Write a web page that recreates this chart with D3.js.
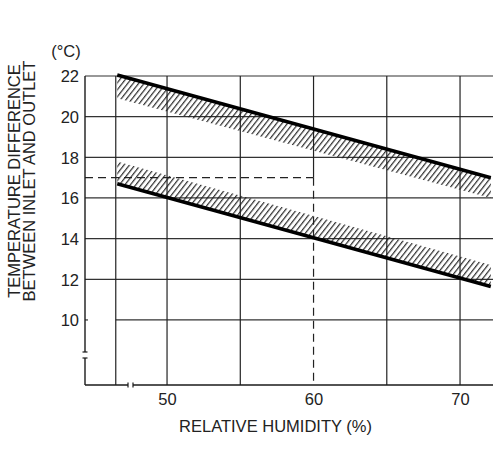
<!DOCTYPE html>
<html>
<head>
<meta charset="utf-8">
<script src="https://cdn.jsdelivr.net/npm/d3@7"></script>
<style>
  html, body { margin: 0; padding: 0; background: #fff; }
  svg text { font-family: "Liberation Sans", Arial, sans-serif; fill: #222; }
</style>
</head>
<body>
<svg id="chart" width="503" height="451"></svg>
<script>
// Axis ticks
const humidityTicks = [50, 60, 70];
const tempTicks = [10, 12, 14, 16, 18, 20, 22];
// Grid positions
const gridHumidity = [46.5, 50, 55, 65, 70];
const gridTemp = [12, 14, 16, 18, 20, 22];
// Reference reading (dashed guide)
const markHumidity = 60;
const markTemp = 17;
// Band end points (relative humidity, %)
const bandHumidity = [46.6, 72.1];
// Upper band: limit line and inner edge of hatching (°C)
const upperLimit = [22.05, 17.0];
const upperInner = [20.9, 16.0];
// Lower band: limit line and inner edge of hatching (°C)
const lowerLimit = [16.7, 11.65];
const lowerInner = [17.8, 12.7];

const svg = d3.select("#chart");
const ink = "#1a1a1a";

const x = d3.scaleLinear().domain([44.4, 72.25]).range([85, 493]);
const y = d3.scaleLinear().domain([6.8, 22]).range([385, 76]);

// Hatch pattern
const defs = svg.append("defs");
const pat = defs.append("pattern")
  .attr("id", "hatch")
  .attr("patternUnits", "userSpaceOnUse")
  .attr("width", 4.3).attr("height", 10)
  .attr("patternTransform", "rotate(38)");
pat.append("line")
  .attr("x1", 1.5).attr("y1", 0).attr("x2", 1.5).attr("y2", 10)
  .attr("stroke", ink).attr("stroke-width", 1.1);

const g = svg.append("g");

// Horizontal grid lines
g.selectAll("line.hgrid").data(gridTemp).join("line")
  .attr("x1", x(44.4)).attr("x2", x(72.25))
  .attr("y1", d => y(d)).attr("y2", d => y(d))
  .attr("stroke", "#333").attr("stroke-width", 1.2);
// 10 °C line starts at the first vertical
g.append("line")
  .attr("x1", x(46.5)).attr("x2", x(72.25))
  .attr("y1", y(10)).attr("y2", y(10))
  .attr("stroke", "#333").attr("stroke-width", 1.2);
g.append("line")
  .attr("x1", x(44.4)).attr("x2", x(44.4) + 3)
  .attr("y1", y(10)).attr("y2", y(10))
  .attr("stroke", "#333").attr("stroke-width", 1.2);

// Vertical grid lines
g.selectAll("line.vgrid").data(gridHumidity).join("line")
  .attr("x1", d => x(d)).attr("x2", d => x(d))
  .attr("y1", y(22)).attr("y2", y(6.8))
  .attr("stroke", "#222").attr("stroke-width", 1.2);
// 60 % line: solid above the reading, dashed below
g.append("line")
  .attr("x1", x(markHumidity)).attr("x2", x(markHumidity))
  .attr("y1", y(22)).attr("y2", y(markTemp))
  .attr("stroke", "#222").attr("stroke-width", 1.2);
g.append("line")
  .attr("x1", x(markHumidity)).attr("x2", x(markHumidity))
  .attr("y1", y(markTemp)).attr("y2", y(6.8))
  .attr("stroke", "#222").attr("stroke-width", 1.2)
  .attr("stroke-dasharray", "8,5");
// Dashed guide at 17 °C
g.append("line")
  .attr("x1", x(44.4)).attr("x2", x(markHumidity))
  .attr("y1", y(markTemp)).attr("y2", y(markTemp))
  .attr("stroke", "#222").attr("stroke-width", 1.2)
  .attr("stroke-dasharray", "8,5");

// Hatched bands
function bandPath(edgeA, edgeB) {
  const pts = [
    [x(bandHumidity[0]), y(edgeA[0])],
    [x(bandHumidity[1]), y(edgeA[1])],
    [x(bandHumidity[1]), y(edgeB[1])],
    [x(bandHumidity[0]), y(edgeB[0])]
  ];
  return d3.line()(pts) + "Z";
}
g.append("path").attr("d", bandPath(upperLimit, upperInner)).attr("fill", "url(#hatch)");
g.append("path").attr("d", bandPath(lowerLimit, lowerInner)).attr("fill", "url(#hatch)");

// Limit lines
const limitLine = d3.line().x((d, i) => x(bandHumidity[i])).y(d => y(d));
[upperLimit, lowerLimit].forEach(s => {
  g.append("path").attr("d", limitLine(s))
    .attr("fill", "none").attr("stroke", "#000").attr("stroke-width", 3.6)
    .attr("stroke-linecap", "butt");
});

// Axes with break marks
const axisW = 1.4;
g.append("line").attr("x1", x(44.4)).attr("x2", x(44.4))
  .attr("y1", y(22)).attr("y2", 352).attr("stroke", ink).attr("stroke-width", axisW);
g.append("line").attr("x1", x(44.4)).attr("x2", x(44.4))
  .attr("y1", 358).attr("y2", y(6.8)).attr("stroke", ink).attr("stroke-width", axisW);
g.append("line").attr("x1", x(44.4) - 2.5).attr("x2", x(44.4) + 2.5)
  .attr("y1", 352).attr("y2", 352).attr("stroke", ink).attr("stroke-width", 1.2);
g.append("line").attr("x1", x(44.4) - 2.5).attr("x2", x(44.4) + 2.5)
  .attr("y1", 358).attr("y2", 358).attr("stroke", ink).attr("stroke-width", 1.2);

g.append("line").attr("x1", x(44.4)).attr("x2", 128)
  .attr("y1", y(6.8)).attr("y2", y(6.8)).attr("stroke", ink).attr("stroke-width", axisW);
g.append("line").attr("x1", 133).attr("x2", x(72.25))
  .attr("y1", y(6.8)).attr("y2", y(6.8)).attr("stroke", ink).attr("stroke-width", axisW);
g.append("line").attr("x1", 128).attr("x2", 128)
  .attr("y1", y(6.8) - 2.5).attr("y2", y(6.8) + 2.5).attr("stroke", ink).attr("stroke-width", 1.2);
g.append("line").attr("x1", 133).attr("x2", 133)
  .attr("y1", y(6.8) - 2.5).attr("y2", y(6.8) + 2.5).attr("stroke", ink).attr("stroke-width", 1.2);

// Tick labels via d3 axes
const yAxis = d3.axisLeft(y).tickValues(tempTicks).tickSize(0).tickPadding(0);
const ya = svg.append("g").attr("transform", "translate(79,0)").call(yAxis);
ya.select(".domain").remove();
ya.selectAll("text").attr("font-size", "16.5px")
  .attr("font-family", "Liberation Sans, Arial, sans-serif").attr("fill", "#222")
  .attr("dy", "0.36em");

const xAxis = d3.axisBottom(x).tickValues(humidityTicks).tickSize(0).tickPadding(0);
const xa = svg.append("g").attr("transform", "translate(0,393)").call(xAxis);
xa.select(".domain").remove();
xa.selectAll("text").attr("font-size", "16.5px")
  .attr("font-family", "Liberation Sans, Arial, sans-serif").attr("fill", "#222")
  .attr("dy", "0.71em");

// Titles
svg.append("text").attr("x", 66).attr("y", 57).attr("text-anchor", "middle")
  .attr("font-size", "16.5px").text("(°C)");
svg.append("text").attr("x", 275.5).attr("y", 432).attr("text-anchor", "middle")
  .attr("font-size", "16.5px").text("RELATIVE HUMIDITY (%)");
svg.append("text").attr("transform", "translate(19.5,181) rotate(-90)")
  .attr("text-anchor", "middle").attr("font-size", "16.5px")
  .text("TEMPERATURE DIFFERENCE");
svg.append("text").attr("transform", "translate(34.5,181) rotate(-90)")
  .attr("text-anchor", "middle").attr("font-size", "16.5px")
  .text("BETWEEN INLET AND OUTLET");
</script>
</body>
</html>
